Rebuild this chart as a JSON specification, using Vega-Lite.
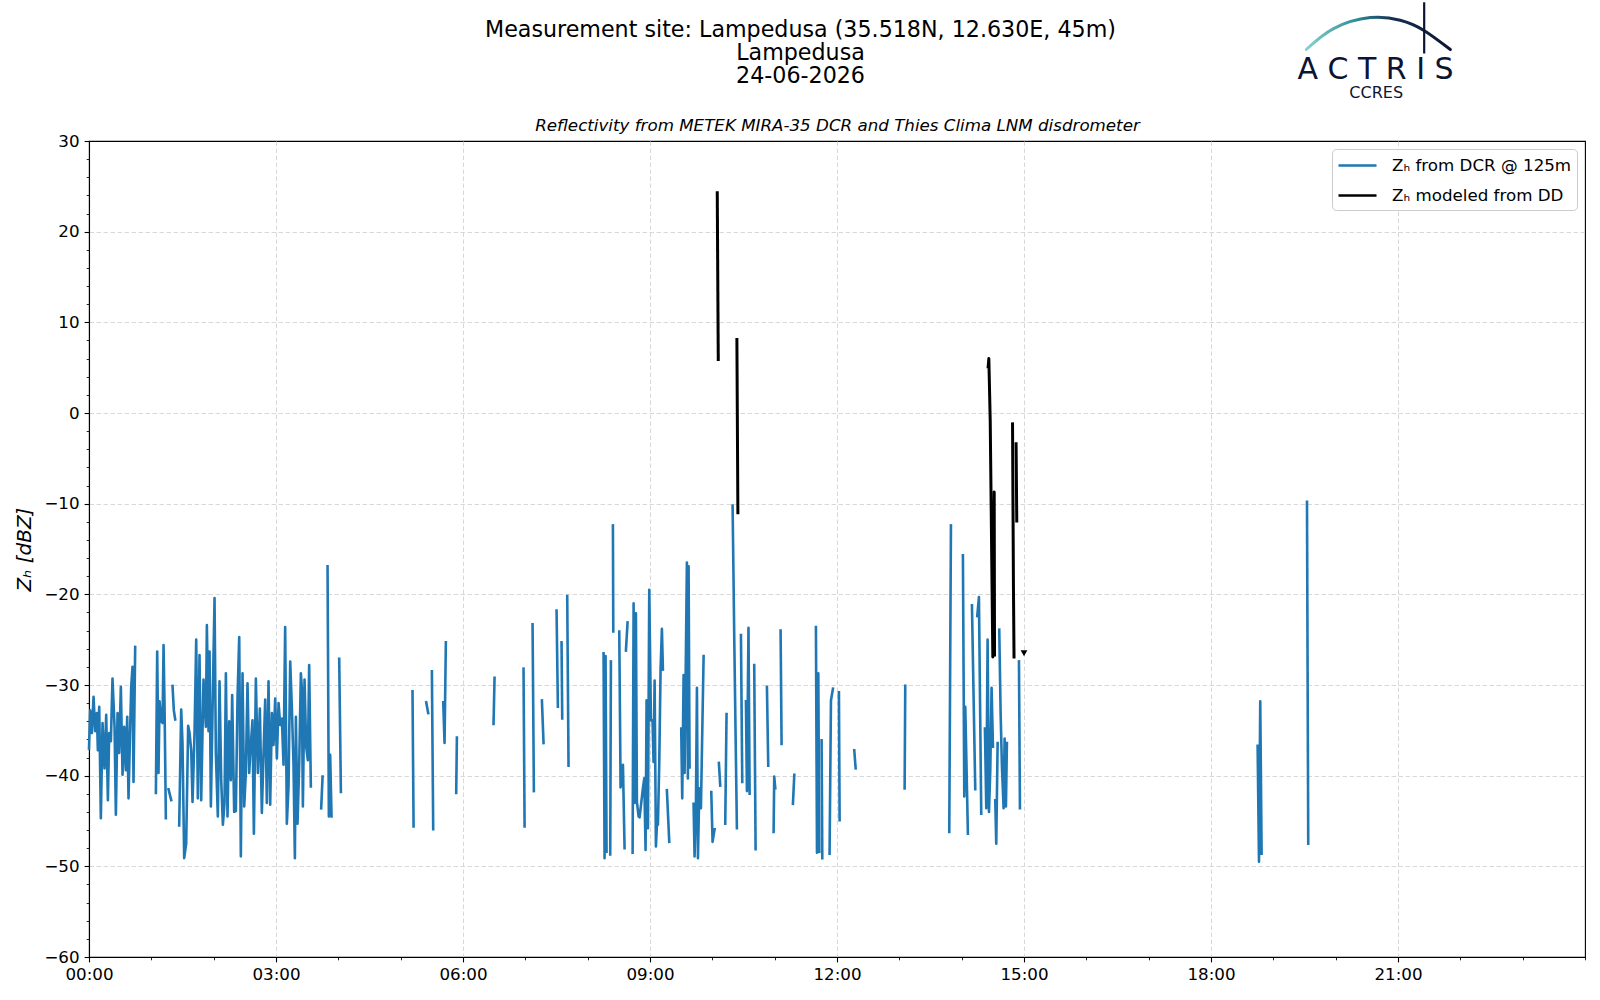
{
  "$schema": "https://vega.github.io/schema/vega-lite/v6.json",
  "description": "Reflectivity from METEK MIRA-35 DCR and Thies Clima LNM disdrometer, Lampedusa, 24-06-2026",
  "width": 1496,
  "height": 816,
  "autosize": {"type": "none"},
  "padding": {"left": 89, "top": 141, "right": 15, "bottom": 43},
  "background": "white",
  "config": {
    "font": "DejaVu Sans",
    "view": {"stroke": "black", "strokeWidth": 1.1},
    "axis": {
      "labelFont": "DejaVu Sans",
      "labelFontSize": 16.7,
      "labelColor": "black",
      "titleFont": "DejaVu Sans",
      "titleColor": "black",
      "titleFontWeight": "normal",
      "tickColor": "black",
      "domainColor": "black",
      "domainWidth": 1.1,
      "gridColor": "#d4d4d4",
      "gridDash": [4.5, 2.5],
      "gridWidth": 0.9,
      "labelFlush": false,
      "labelOverlap": false,
      "labelBound": false
    }
  },
  "datasets": {
    "dcr": [
      {"t": 0, "z": -37, "s": 1}, {"t": 0.019, "z": -32.8, "s": 1}, {"t": 0.046, "z": -35.3, "s": 1}, {"t": 0.073, "z": -31.3, "s": 1},
      {"t": 0.099, "z": -35.1, "s": 1}, {"t": 0.126, "z": -33.1, "s": 1}, {"t": 0.142, "z": -37.2, "s": 1}, {"t": 0.164, "z": -32.4, "s": 1},
      {"t": 0.19, "z": -44.7, "s": 1}, {"t": 0.217, "z": -34.2, "s": 1}, {"t": 0.249, "z": -39.2, "s": 1}, {"t": 0.276, "z": -33.3, "s": 1},
      {"t": 0.303, "z": -42.7, "s": 1}, {"t": 0.324, "z": -35.3, "s": 1}, {"t": 0.351, "z": -36.2, "s": 1}, {"t": 0.377, "z": -29.3, "s": 1},
      {"t": 0.41, "z": -34.6, "s": 1}, {"t": 0.431, "z": -44.3, "s": 1}, {"t": 0.458, "z": -33.1, "s": 1}, {"t": 0.484, "z": -37.5, "s": 1},
      {"t": 0.511, "z": -30.2, "s": 1}, {"t": 0.538, "z": -39.9, "s": 1}, {"t": 0.565, "z": -34.6, "s": 1}, {"t": 0.591, "z": -39.4, "s": 1},
      {"t": 0.613, "z": -33.5, "s": 1}, {"t": 0.634, "z": -42.5, "s": 1}, {"t": 0.656, "z": -36.1, "s": 1}, {"t": 0.677, "z": -30.2, "s": 1},
      {"t": 0.698, "z": -28, "s": 1}, {"t": 0.714, "z": -40.7, "s": 1}, {"t": 0.741, "z": -25.8, "s": 1},
      {"t": 1.073, "z": -41.9, "s": 2}, {"t": 1.094, "z": -26.3, "s": 2}, {"t": 1.115, "z": -39.7, "s": 2}, {"t": 1.132, "z": -31.8, "s": 2},
      {"t": 1.158, "z": -34, "s": 2}, {"t": 1.18, "z": -34.2, "s": 2}, {"t": 1.196, "z": -25.6, "s": 2}, {"t": 1.212, "z": -32.4, "s": 2},
      {"t": 1.233, "z": -44.7, "s": 2},
      {"t": 1.276, "z": -41.5, "s": 3}, {"t": 1.319, "z": -42.7, "s": 3},
      {"t": 1.34, "z": -30.1, "s": 4}, {"t": 1.361, "z": -32.8, "s": 4}, {"t": 1.383, "z": -33.8, "s": 4},
      {"t": 1.447, "z": -45.5, "s": 5}, {"t": 1.479, "z": -32.7, "s": 5}, {"t": 1.5, "z": -36.4, "s": 5}, {"t": 1.527, "z": -49.1, "s": 5},
      {"t": 1.559, "z": -47.5, "s": 5}, {"t": 1.591, "z": -34.5, "s": 5}, {"t": 1.613, "z": -35.3, "s": 5}, {"t": 1.64, "z": -37.2, "s": 5},
      {"t": 1.661, "z": -42.9, "s": 5}, {"t": 1.693, "z": -35.3, "s": 5}, {"t": 1.72, "z": -25, "s": 5}, {"t": 1.746, "z": -42.5, "s": 5},
      {"t": 1.773, "z": -26.7, "s": 5}, {"t": 1.8, "z": -42.7, "s": 5}, {"t": 1.837, "z": -29.4, "s": 5}, {"t": 1.875, "z": -34.6, "s": 5},
      {"t": 1.891, "z": -23.4, "s": 5}, {"t": 1.918, "z": -35.1, "s": 5}, {"t": 1.934, "z": -26.3, "s": 5}, {"t": 1.955, "z": -43.4, "s": 5},
      {"t": 1.982, "z": -32.8, "s": 5}, {"t": 2.014, "z": -20.4, "s": 5}, {"t": 2.035, "z": -37.5, "s": 5}, {"t": 2.067, "z": -44.5, "s": 5},
      {"t": 2.094, "z": -29.6, "s": 5}, {"t": 2.121, "z": -40.5, "s": 5}, {"t": 2.148, "z": -45.4, "s": 5}, {"t": 2.174, "z": -43, "s": 5},
      {"t": 2.196, "z": -28.7, "s": 5}, {"t": 2.222, "z": -44.5, "s": 5}, {"t": 2.249, "z": -34, "s": 5}, {"t": 2.276, "z": -40.5, "s": 5},
      {"t": 2.297, "z": -31.1, "s": 5}, {"t": 2.329, "z": -44, "s": 5}, {"t": 2.356, "z": -43.9, "s": 5}, {"t": 2.383, "z": -31.3, "s": 5},
      {"t": 2.41, "z": -24.7, "s": 5}, {"t": 2.436, "z": -48.9, "s": 5}, {"t": 2.463, "z": -28.7, "s": 5}, {"t": 2.49, "z": -43.4, "s": 5},
      {"t": 2.516, "z": -39.7, "s": 5}, {"t": 2.543, "z": -29.8, "s": 5}, {"t": 2.57, "z": -39.7, "s": 5}, {"t": 2.597, "z": -36.4, "s": 5},
      {"t": 2.623, "z": -33.9, "s": 5}, {"t": 2.645, "z": -46.4, "s": 5}, {"t": 2.677, "z": -29.3, "s": 5}, {"t": 2.709, "z": -39.7, "s": 5},
      {"t": 2.741, "z": -32.6, "s": 5}, {"t": 2.773, "z": -44.1, "s": 5}, {"t": 2.8, "z": -37.5, "s": 5}, {"t": 2.827, "z": -31.6, "s": 5},
      {"t": 2.853, "z": -43, "s": 5}, {"t": 2.88, "z": -29.6, "s": 5}, {"t": 2.907, "z": -43.2, "s": 5}, {"t": 2.934, "z": -33.1, "s": 5},
      {"t": 2.96, "z": -36.6, "s": 5}, {"t": 2.987, "z": -31.5, "s": 5}, {"t": 3.014, "z": -38.1, "s": 5}, {"t": 3.041, "z": -32, "s": 5},
      {"t": 3.067, "z": -34.4, "s": 5}, {"t": 3.094, "z": -33.7, "s": 5}, {"t": 3.121, "z": -38.8, "s": 5}, {"t": 3.147, "z": -23.6, "s": 5},
      {"t": 3.174, "z": -45.3, "s": 5}, {"t": 3.201, "z": -41.2, "s": 5}, {"t": 3.228, "z": -27.4, "s": 5}, {"t": 3.254, "z": -32.4, "s": 5},
      {"t": 3.281, "z": -38.8, "s": 5}, {"t": 3.303, "z": -49.1, "s": 5}, {"t": 3.319, "z": -33.5, "s": 5}, {"t": 3.345, "z": -45.3, "s": 5},
      {"t": 3.372, "z": -38.8, "s": 5}, {"t": 3.399, "z": -28.7, "s": 5}, {"t": 3.415, "z": -30.4, "s": 5}, {"t": 3.431, "z": -43.4, "s": 5},
      {"t": 3.458, "z": -29.4, "s": 5}, {"t": 3.484, "z": -36.8, "s": 5}, {"t": 3.511, "z": -38.3, "s": 5}, {"t": 3.532, "z": -27.8, "s": 5},
      {"t": 3.559, "z": -41.2, "s": 5},
      {"t": 3.725, "z": -43.6, "s": 6}, {"t": 3.747, "z": -40.1, "s": 6},
      {"t": 3.827, "z": -16.9, "s": 7}, {"t": 3.848, "z": -44.5, "s": 7}, {"t": 3.869, "z": -37.7, "s": 7}, {"t": 3.891, "z": -44.5, "s": 7},
      {"t": 4.014, "z": -27.1, "s": 8}, {"t": 4.041, "z": -41.8, "s": 8},
      {"t": 5.19, "z": -30.7, "s": 9}, {"t": 5.207, "z": -45.6, "s": 9},
      {"t": 5.41, "z": -31.9, "s": 10}, {"t": 5.442, "z": -33.1, "s": 10},
      {"t": 5.501, "z": -28.5, "s": 11}, {"t": 5.522, "z": -45.9, "s": 11},
      {"t": 5.683, "z": -31.9, "s": 12}, {"t": 5.704, "z": -36.4, "s": 12}, {"t": 5.725, "z": -25.3, "s": 12},
      {"t": 5.891, "z": -41.9, "s": 13}, {"t": 5.902, "z": -35.8, "s": 13},
      {"t": 6.49, "z": -34.3, "s": 14}, {"t": 6.506, "z": -29.2, "s": 14},
      {"t": 6.971, "z": -28.2, "s": 15}, {"t": 6.988, "z": -45.6, "s": 15},
      {"t": 7.116, "z": -23.3, "s": 16}, {"t": 7.137, "z": -41.7, "s": 16},
      {"t": 7.266, "z": -31.7, "s": 17}, {"t": 7.292, "z": -36.4, "s": 17},
      {"t": 7.501, "z": -21.8, "s": 18}, {"t": 7.522, "z": -32.4, "s": 18},
      {"t": 7.581, "z": -25.3, "s": 19}, {"t": 7.592, "z": -33.7, "s": 19},
      {"t": 7.672, "z": -20.2, "s": 20}, {"t": 7.693, "z": -38.9, "s": 20},
      {"t": 8.255, "z": -26.5, "s": 21}, {"t": 8.271, "z": -49.1, "s": 21}, {"t": 8.287, "z": -26.8, "s": 21}, {"t": 8.303, "z": -48.4, "s": 21},
      {"t": 8.362, "z": -48.7, "s": 22}, {"t": 8.373, "z": -27.4, "s": 22},
      {"t": 8.405, "z": -12.4, "s": 23}, {"t": 8.411, "z": -24.1, "s": 23},
      {"t": 8.507, "z": -24.1, "s": 24}, {"t": 8.528, "z": -41.3, "s": 24}, {"t": 8.566, "z": -38.8, "s": 24}, {"t": 8.592, "z": -48, "s": 24},
      {"t": 8.614, "z": -26.2, "s": 25}, {"t": 8.64, "z": -23.1, "s": 25},
      {"t": 8.721, "z": -48.5, "s": 26}, {"t": 8.737, "z": -21, "s": 26}, {"t": 8.753, "z": -43, "s": 26}, {"t": 8.774, "z": -22.1, "s": 26},
      {"t": 8.79, "z": -42.9, "s": 26}, {"t": 8.817, "z": -44.5, "s": 26}, {"t": 8.833, "z": -44.6, "s": 26}, {"t": 8.886, "z": -41.4, "s": 26},
      {"t": 8.908, "z": -40.3, "s": 26}, {"t": 8.929, "z": -48.2, "s": 26}, {"t": 8.945, "z": -31.7, "s": 26}, {"t": 8.967, "z": -45.8, "s": 26},
      {"t": 8.988, "z": -19.5, "s": 26}, {"t": 9.015, "z": -33.9, "s": 26}, {"t": 9.041, "z": -33.9, "s": 26}, {"t": 9.057, "z": -38.5, "s": 26},
      {"t": 9.074, "z": -29.5, "s": 26}, {"t": 9.095, "z": -47.8, "s": 26}, {"t": 9.111, "z": -45.4, "s": 26}, {"t": 9.127, "z": -45.4, "s": 26},
      {"t": 9.148, "z": -38.8, "s": 26}, {"t": 9.17, "z": -28.2, "s": 26}, {"t": 9.191, "z": -23.8, "s": 26}, {"t": 9.207, "z": -28.3, "s": 26},
      {"t": 9.271, "z": -41.6, "s": 27}, {"t": 9.309, "z": -47.3, "s": 27},
      {"t": 9.501, "z": -34.8, "s": 28}, {"t": 9.517, "z": -42.5, "s": 28}, {"t": 9.539, "z": -28.9, "s": 28}, {"t": 9.555, "z": -39.7, "s": 28},
      {"t": 9.592, "z": -16.5, "s": 28}, {"t": 9.608, "z": -40.3, "s": 28}, {"t": 9.619, "z": -16.9, "s": 28}, {"t": 9.635, "z": -39.1, "s": 28},
      {"t": 9.699, "z": -43.1, "s": 29}, {"t": 9.715, "z": -48.9, "s": 29}, {"t": 9.737, "z": -43.2, "s": 29}, {"t": 9.753, "z": -30.3, "s": 29},
      {"t": 9.769, "z": -49.1, "s": 29}, {"t": 9.791, "z": -41.4, "s": 29}, {"t": 9.817, "z": -43.6, "s": 29}, {"t": 9.86, "z": -26.8, "s": 29},
      {"t": 9.983, "z": -41.8, "s": 30}, {"t": 10.004, "z": -47.3, "s": 30}, {"t": 10.036, "z": -45.9, "s": 30},
      {"t": 10.105, "z": -38.6, "s": 31}, {"t": 10.127, "z": -41.1, "s": 31},
      {"t": 10.207, "z": -45.3, "s": 32}, {"t": 10.228, "z": -33.2, "s": 32},
      {"t": 10.325, "z": -10.2, "s": 33}, {"t": 10.341, "z": -18.8, "s": 33}, {"t": 10.352, "z": -25, "s": 33}, {"t": 10.394, "z": -45.8, "s": 33},
      {"t": 10.459, "z": -24.5, "s": 34}, {"t": 10.48, "z": -40.7, "s": 34},
      {"t": 10.539, "z": -31.8, "s": 35}, {"t": 10.555, "z": -41.7, "s": 35}, {"t": 10.58, "z": -23.7, "s": 35}, {"t": 10.598, "z": -42, "s": 35},
      {"t": 10.672, "z": -27.8, "s": 36}, {"t": 10.694, "z": -48.1, "s": 36},
      {"t": 10.876, "z": -30.2, "s": 37}, {"t": 10.897, "z": -38.9, "s": 37},
      {"t": 10.983, "z": -46.2, "s": 38}, {"t": 10.993, "z": -40.1, "s": 38}, {"t": 11.01, "z": -41.4, "s": 38},
      {"t": 11.095, "z": -24, "s": 39}, {"t": 11.111, "z": -36.5, "s": 39},
      {"t": 11.293, "z": -43.1, "s": 40}, {"t": 11.315, "z": -39.9, "s": 40},
      {"t": 11.662, "z": -23.6, "s": 41}, {"t": 11.679, "z": -48.5, "s": 41}, {"t": 11.7, "z": -28.7, "s": 41}, {"t": 11.716, "z": -48.4, "s": 41},
      {"t": 11.753, "z": -36.1, "s": 42}, {"t": 11.764, "z": -49.1, "s": 42},
      {"t": 11.881, "z": -48.6, "s": 43}, {"t": 11.903, "z": -31.7, "s": 43}, {"t": 11.935, "z": -30.4, "s": 43},
      {"t": 12.031, "z": -30.8, "s": 44}, {"t": 12.042, "z": -44.9, "s": 44},
      {"t": 12.277, "z": -37.2, "s": 45}, {"t": 12.299, "z": -39.2, "s": 45},
      {"t": 13.085, "z": -41.4, "s": 46}, {"t": 13.095, "z": -30.1, "s": 46},
      {"t": 13.801, "z": -46.2, "s": 47}, {"t": 13.828, "z": -12.4, "s": 47},
      {"t": 14.02, "z": -15.7, "s": 48}, {"t": 14.042, "z": -42.3, "s": 48}, {"t": 14.058, "z": -32.4, "s": 48}, {"t": 14.1, "z": -46.4, "s": 48},
      {"t": 14.165, "z": -21.2, "s": 49}, {"t": 14.218, "z": -41.5, "s": 49},
      {"t": 14.25, "z": -22.4, "s": 50}, {"t": 14.277, "z": -20.3, "s": 50}, {"t": 14.314, "z": -44.2, "s": 50},
      {"t": 14.373, "z": -34.8, "s": 51}, {"t": 14.395, "z": -43.6, "s": 51}, {"t": 14.416, "z": -25, "s": 51}, {"t": 14.438, "z": -44, "s": 51},
      {"t": 14.459, "z": -39.4, "s": 51}, {"t": 14.48, "z": -30.3, "s": 51}, {"t": 14.502, "z": -36.8, "s": 51},
      {"t": 14.539, "z": -42.7, "s": 52}, {"t": 14.555, "z": -47.5, "s": 52}, {"t": 14.577, "z": -36.4, "s": 52},
      {"t": 14.603, "z": -23.9, "s": 53}, {"t": 14.625, "z": -33.1, "s": 53}, {"t": 14.646, "z": -39, "s": 53}, {"t": 14.673, "z": -43.6, "s": 53},
      {"t": 14.689, "z": -35.9, "s": 53}, {"t": 14.71, "z": -43.4, "s": 53}, {"t": 14.726, "z": -36.4, "s": 53},
      {"t": 14.919, "z": -27.4, "s": 54}, {"t": 14.935, "z": -43.6, "s": 54},
      {"t": 18.748, "z": -36.7, "s": 55}, {"t": 18.77, "z": -49.5, "s": 55}, {"t": 18.79, "z": -31.8, "s": 55}, {"t": 18.812, "z": -48.6, "s": 55},
      {"t": 19.54, "z": -9.8, "s": 56}, {"t": 19.56, "z": -47.5, "s": 56}
    ],
    "dd": [
      {"t": 10.079, "z": 24.3, "s": 1}, {"t": 10.095, "z": 5.9, "s": 1},
      {"t": 10.394, "z": 8.1, "s": 2}, {"t": 10.41, "z": -11, "s": 2},
      {"t": 14.425, "z": 5.1, "s": 3}, {"t": 14.436, "z": 6, "s": 3}, {"t": 14.458, "z": -0.8, "s": 3}, {"t": 14.5, "z": -26.9, "s": 3},
      {"t": 14.522, "z": -8.7, "s": 3}, {"t": 14.527, "z": -26.7, "s": 3},
      {"t": 14.816, "z": -1.2, "s": 4}, {"t": 14.831, "z": -19.5, "s": 4}, {"t": 14.84, "z": -26.9, "s": 4},
      {"t": 14.873, "z": -3.4, "s": 5}, {"t": 14.884, "z": -11.9, "s": 5}
    ],
    "ddLast": [
      {"t": 15.0, "z": -26.5}
    ],
    "logoArc": [
      {"t": 19.528, "z": 40.09}, {"t": 19.966, "z": 42.4}, {"t": 20.555, "z": 43.62},
      {"t": 21.036, "z": 43.32}, {"t": 21.41, "z": 42.22}, {"t": 21.84, "z": 40.09}
    ],
    "one": [{}]
  },
  "layer": [
    {
      "data": {"name": "dcr"},
      "mark": {"type": "line", "strokeWidth": 2.6, "strokeJoin": "round", "strokeCap": "square"},
      "encoding": {
        "x": {
          "field": "t", "type": "quantitative",
          "scale": {"domain": [0, 24], "nice": false, "zero": false},
          "axis": {
            "orient": "bottom", "title": null,
            "values": [0, 3, 6, 9, 12, 15, 18, 21],
            "labelExpr": "(datum.value < 10 ? '0' : '') + datum.value + ':00'",
            "tickSize": 4.9, "tickWidth": 1.1, "labelPadding": 4.5,
            "grid": true, "domain": true
          }
        },
        "y": {
          "field": "z", "type": "quantitative",
          "scale": {"domain": [-60, 30], "nice": false, "zero": false},
          "axis": {
            "orient": "left",
            "values": [-60, -50, -40, -30, -20, -10, 0, 10, 20, 30],
            "format": "d",
            "tickSize": 4.9, "tickWidth": 1.1, "labelPadding": 5,
            "grid": true, "domain": true,
            "gridOpacity": {"condition": {"test": "datum.value >= 30 || datum.value <= -60", "value": 0}, "value": 1},
            "title": "Zₕ [dBZ]",
            "titleFontSize": 20,
            "titleFontStyle": "italic",
            "titleX": -65,
            "titleY": 408,
            "titleBaseline": "middle",
            "titleAnchor": "middle"
          }
        },
        "color": {
          "datum": "Zₕ from DCR @ 125m",
          "type": "nominal",
          "scale": {
            "domain": ["Zₕ from DCR @ 125m", "Zₕ modeled from DD"],
            "range": ["#1f77b4", "#000000"]
          },
          "legend": {
            "orient": "top-right",
            "offset": 8,
            "title": null,
            "labelFont": "DejaVu Sans",
            "labelFontSize": 16.7,
            "labelColor": "black",
            "labelLimit": 400,
            "symbolType": "M-1.9,0H1.9",
            "symbolSize": 400,
            "symbolStrokeWidth": 2.4,
            "symbolOffset": 9,
            "labelOffset": 23,
            "rowPadding": 9,
            "padding": 5,
            "strokeColor": "#cccccc",
            "fillColor": "rgba(255,255,255,0.85)",
            "cornerRadius": 4
          }
        },
        "detail": {"field": "s", "type": "nominal"}
      }
    },
    {
      "data": {"name": "dd"},
      "mark": {"type": "line", "strokeWidth": 3, "strokeJoin": "round", "strokeCap": "square"},
      "encoding": {
        "x": {
          "field": "t", "type": "quantitative",
          "scale": {"domain": [0, 24], "nice": false, "zero": false},
          "axis": {
            "orient": "top",
            "labels": false, "ticks": false, "domain": false, "grid": false,
            "title": "Reflectivity from METEK MIRA-35 DCR and Thies Clima LNM disdrometer",
            "titleFontSize": 16.7,
            "titleFontStyle": "italic",
            "titleBaseline": "middle",
            "titleAnchor": "middle",
            "titleY": -15.5
          }
        },
        "y": {
          "field": "z", "type": "quantitative",
          "scale": {"domain": [-60, 30], "nice": false, "zero": false},
          "axis": {
            "orient": "left",
            "values": [-60, -58, -56, -54, -52, -50, -48, -46, -44, -42, -40, -38, -36, -34, -32, -30, -28, -26, -24, -22, -20, -18, -16, -14, -12, -10, -8, -6, -4, -2, 0, 2, 4, 6, 8, 10, 12, 14, 16, 18, 20, 22, 24, 26, 28, 30],
            "labels": false, "domain": false, "grid": false, "title": null,
            "tickSize": 2.8, "tickWidth": 0.85
          }
        },
        "color": {"datum": "Zₕ modeled from DD", "type": "nominal"},
        "detail": {"field": "s", "type": "nominal"}
      }
    },
    {
      "data": {"name": "ddLast"},
      "mark": {"type": "point", "shape": "triangle-down", "filled": true, "size": 45, "color": "black", "opacity": 1},
      "encoding": {
        "x": {
          "field": "t", "type": "quantitative",
          "scale": {"domain": [0, 24], "nice": false, "zero": false},
          "axis": {
            "orient": "top",
            "labels": false, "ticks": false, "domain": false, "grid": false,
            "title": ["Measurement site: Lampedusa (35.518N, 12.630E, 45m)", "Lampedusa", "24-06-2026"],
            "titleFontSize": 22.2,
            "titleLineHeight": 23,
            "titleBaseline": "middle",
            "titleAnchor": "middle",
            "titleAlign": "center",
            "titleX": 711,
            "titleY": -111.7
          }
        },
        "y": {
          "field": "z", "type": "quantitative",
          "scale": {"domain": [-60, 30], "nice": false, "zero": false},
          "axis": null
        }
      }
    },
    {
      "data": {"name": "logoArc"},
      "mark": {
        "type": "line",
        "interpolate": "natural",
        "strokeWidth": 3,
        "strokeCap": "round",
        "stroke": {
          "gradient": "linear",
          "x1": 0, "y1": 0, "x2": 1, "y2": 0,
          "stops": [
            {"offset": 0, "color": "#86d3cb"},
            {"offset": 0.35, "color": "#2f8d98"},
            {"offset": 0.6, "color": "#13304f"},
            {"offset": 1, "color": "#0c1433"}
          ]
        }
      },
      "encoding": {
        "x": {
          "field": "t", "type": "quantitative",
          "scale": {"domain": [0, 24], "nice": false, "zero": false},
          "axis": {
            "orient": "bottom",
            "values": [0, 1, 2, 3, 4, 5, 6, 7, 8, 9, 10, 11, 12, 13, 14, 15, 16, 17, 18, 19, 20, 21, 22, 23, 24],
            "labels": false, "domain": false, "grid": false, "title": null,
            "tickSize": 2.8, "tickWidth": 0.85
          }
        },
        "y": {
          "field": "z", "type": "quantitative",
          "scale": {"domain": [-60, 30], "nice": false, "zero": false},
          "axis": null
        }
      }
    },
    {
      "data": {"name": "one"},
      "mark": {"type": "rule", "color": "#0c1433", "strokeWidth": 2.2},
      "encoding": {
        "x": {"datum": 21.42, "type": "quantitative", "axis": null},
        "y": {"datum": 45.3, "type": "quantitative", "axis": null},
        "y2": {"datum": 39.65}
      }
    },
    {
      "data": {"name": "one"},
      "mark": {"type": "text", "text": "A C T R I S", "fontSize": 30, "font": "DejaVu Sans", "color": "#0c1433", "align": "center", "baseline": "alphabetic"},
      "encoding": {
        "x": {"datum": 20.64, "type": "quantitative", "axis": null},
        "y": {"datum": 36.89, "type": "quantitative", "axis": null}
      }
    },
    {
      "data": {"name": "one"},
      "mark": {"type": "text", "text": "CCRES", "fontSize": 16, "font": "DejaVu Sans", "color": "#0c1433", "align": "center", "baseline": "alphabetic"},
      "encoding": {
        "x": {"datum": 20.65, "type": "quantitative", "axis": null},
        "y": {"datum": 34.69, "type": "quantitative", "axis": null}
      }
    }
  ],
  "resolve": {"axis": {"x": "independent", "y": "independent"}}
}
